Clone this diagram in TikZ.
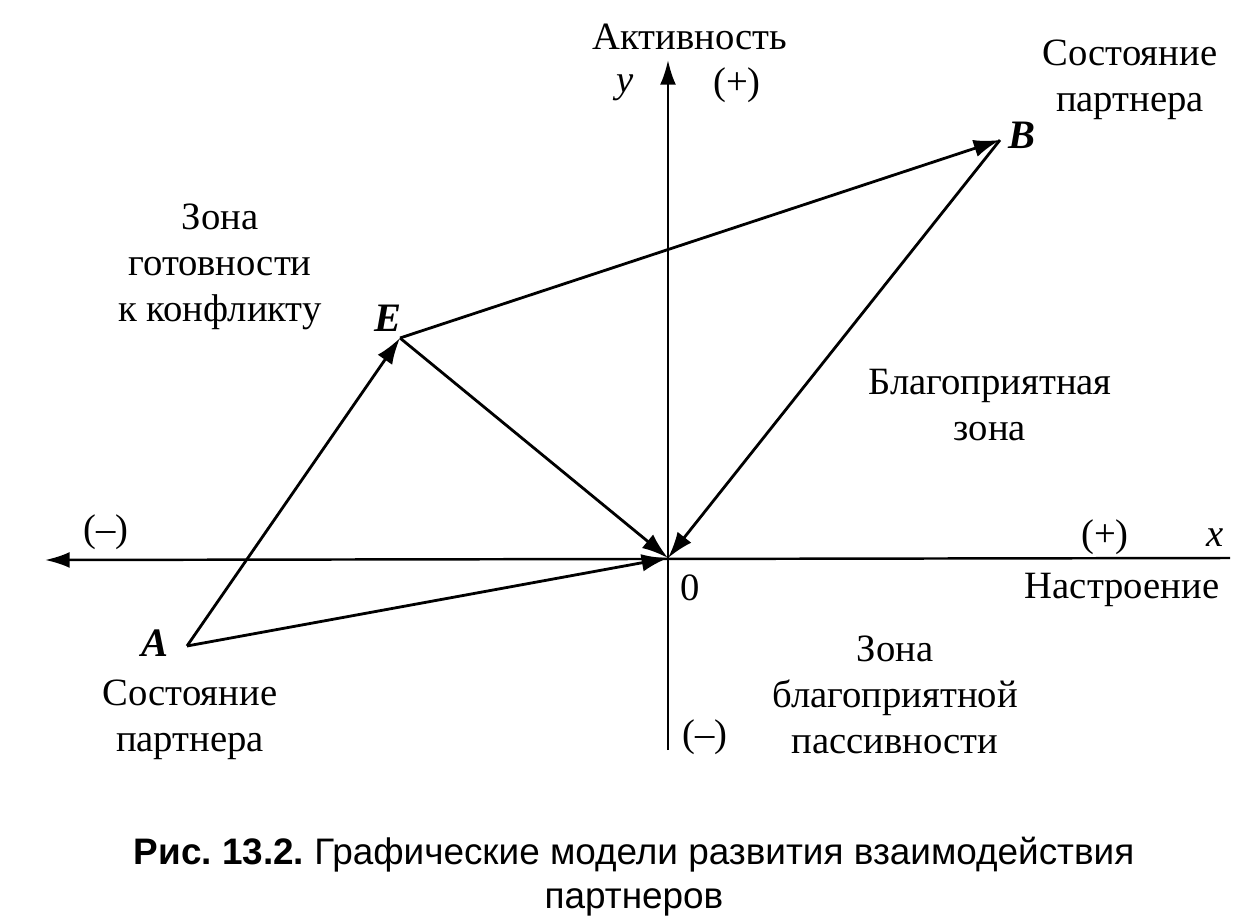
\documentclass[tikz,border=0pt]{standalone}
\usepackage{fontspec}
\setmainfont{Liberation Serif}
\newfontfamily\capfont{Liberation Sans}
\usetikzlibrary{arrows.meta,positioning}

\begin{document}
\frenchspacing
\begin{tikzpicture}[
  x=0.02cm, y=-0.02cm,
  axis/.style={-{Latex[length=14pt,width=9pt]}, line width=1.4pt},
  vec/.style={-{Latex[length=15pt,width=10pt]}, line width=1.6pt},
  lbl/.style={align=center, font=\fontsize{22}{26}\selectfont, inner sep=0pt},
  ptname/.style={font=\fontsize{23}{26}\selectfont\bfseries\itshape, inner sep=0pt},
  caption/.style={align=center, font=\capfont\fontsize{21}{25}\selectfont, inner sep=0pt}
]
\useasboundingbox (0,0) rectangle (1244,922);

\coordinate (O) at (668,558);
\coordinate (A) at (187,646);
\coordinate (E) at (400,338);
\coordinate (B) at (1000,140);
\coordinate (xr) at (1230,558);
\coordinate (xl) at (45,560);
\coordinate (yb) at (668,750);
\coordinate (yt) at (668,60);

\draw[axis] (xr) -- (xl);
\draw[axis] (yb) -- (yt);
\draw[vec] (A) -- (E);
\draw[vec] (E) -- (B);
\draw[vec] (E) -- (O);
\draw[vec] (B) -- (O);
\draw[vec] (A) -- (O);

\node[lbl] (activ) at (690,37) {Активность};
\node[lbl, font=\fontsize{22}{26}\selectfont\itshape] (ylab) at (625,88) {y};
\node[lbl] (yplus) at (737,85) {(+)};
\node[lbl] (ymin) at (705,737) {(--)};
\node[lbl] (xmin) at (106,532) {(--)};
\node[lbl] (xplus) at (1105,537) {(+)};
\node[lbl, font=\fontsize{22}{26}\selectfont\itshape] (xlab) at (1215,538) {x};
\node[lbl] (zero) at (690,588) {0};
\node[lbl] (mood) at (1122,590) {Настроение};

\node[ptname] (Alab) at (155,643) {A};
\node[ptname] (Elab) at (388,318) {E};
\node[ptname] (Blab) at (1022,135) {B};

\node[lbl] (stateB) at (1130,80) {Состояние\\партнера};
\node[lbl] (stateA) at (190,720) {Состояние\\партнера};
\node[lbl] (conflict) at (220,267) {Зона\\готовности\\к конфликту};
\node[lbl] (good) at (990,405) {Благоприятная\\зона};
\node[lbl] (passive) at (895,695) {Зона\\благоприятной\\пассивности};

\node[caption] (cap) at (634,877) {\textbf{Рис. 13.2.} Графические модели развития взаимодействия\\партнеров};
\end{tikzpicture}
\end{document}
